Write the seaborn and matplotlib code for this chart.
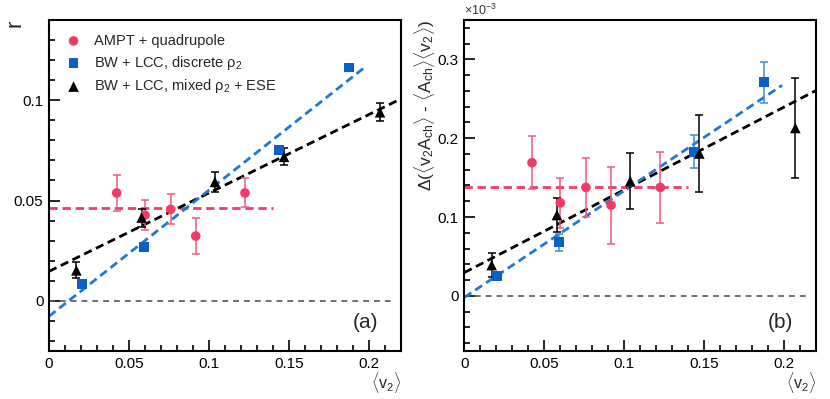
import numpy as np
import pandas as pd
import matplotlib
matplotlib.use("Agg")
import matplotlib.pyplot as plt
import seaborn as sns

sns.set_theme(style="white")
plt.rcParams['font.family'] = ['Liberation Sans', 'DejaVu Sans']
plt.rcParams['mathtext.fontset'] = 'custom'
plt.rcParams['mathtext.rm'] = 'Liberation Sans'
plt.rcParams['mathtext.it'] = 'Liberation Sans'
plt.rcParams['mathtext.bf'] = 'Liberation Sans:bold'

# ---------------- data ----------------
labels = ["AMPT + quadrupole", r"BW + LCC, discrete $\rho_2$", r"BW + LCC, mixed $\rho_2$ + ESE"]

# panel (a): r vs <v2>
ampt_x = [0.0423, 0.0600, 0.0760, 0.0917, 0.1225]
ampt_r = [0.0538, 0.0427, 0.0456, 0.0323, 0.0538]
ampt_r_err = [0.0088, 0.0075, 0.0075, 0.0090, 0.0072]

disc_x = [0.0204, 0.0594, 0.1435, 0.1873]
disc_r = [0.0085, 0.0268, 0.0752, 0.1163]
disc_r_err = [0.0, 0.0, 0.0, 0.0]

mix_x = [0.0171, 0.0579, 0.1037, 0.1469, 0.2069]
mix_r = [0.0152, 0.0415, 0.0593, 0.0718, 0.0940]
mix_r_err = [0.0040, 0.0045, 0.0050, 0.0043, 0.0044]

# panel (b): Delta(<v2 Ach> - <Ach><v2>)  [x 1e-3]
ampt_d = [0.169, 0.118, 0.1376, 0.115, 0.1376]
ampt_d_err = [0.034, 0.032, 0.037, 0.049, 0.045]

disc_d = [0.0253, 0.068, 0.1827, 0.2713]
disc_d_err = [0.005, 0.011, 0.021, 0.026]

mix_d = [0.039, 0.1025, 0.1456, 0.1806, 0.213]
mix_d_err = [0.015, 0.022, 0.036, 0.049, 0.063]

# linear fits: (x_start, x_end, intercept, slope)
fit_a = {"ampt": (0.0, 0.14, 0.0463, 0.0),
         "disc": (0.0, 0.1986, -0.0077, 0.629),
         "mix": (0.0, 0.22, 0.0147, 0.391)}
fit_b = {"ampt": (0.0, 0.14, 0.1376, 0.0),
         "disc": (0.0, 0.1986, -0.002, 1.355),
         "mix": (0.0, 0.22, 0.0295, 1.051)}
zero_line_x = [0.0, 0.2156]

x_ticks = [0, 0.05, 0.1, 0.15, 0.2]
x_ticklabels = ["0", "0.05", "0.1", "0.15", "0.2"]
ya_ticks = [0, 0.05, 0.1]
ya_ticklabels = ["0", "0.05", "0.1"]
yb_ticks = [0, 0.1, 0.2, 0.3]
yb_ticklabels = ["0", "0.1", "0.2", "0.3"]

# ---------------- style ----------------
PINK = "#F53A66"
PINK_ERR = "#F2587C"
BLUE = "#0A5FC8"
BLUE_ERR = "#3A8AD8"
BLACK = "#000000"
BLUE_LINE = "#1E78D6"

fig = plt.figure(figsize=(8.30, 3.99), dpi=100)
axA = fig.add_axes([49/830, 1-351/399, 352/830, 331/399])
axB = fig.add_axes([464.3/830, 1-351/399, 352/830, 331/399])


def draw_panel(ax, ys, errs, fits, ylim, yticks, yticklabels, yminor, tag, legend):
    series = [
        ("ampt", ampt_x, ys[0], errs[0], PINK, PINK_ERR, "o", 48, labels[0]),
        ("disc", disc_x, ys[1], errs[1], BLUE, BLUE_ERR, "s", 50, labels[1]),
        ("mix", mix_x, ys[2], errs[2], BLACK, BLACK, "^", 58, labels[2]),
    ]
    # zero line
    zdf = pd.DataFrame({"x": zero_line_x, "y": [0.0, 0.0]})
    sns.lineplot(data=zdf, x="x", y="y", ax=ax, color="#555555", lw=1.2,
                 linestyle=(0, (3.5, 3.0)), zorder=1)
    # fit lines
    fit_colors = {"ampt": PINK, "disc": BLUE_LINE, "mix": BLACK}
    for key in ["ampt", "mix", "disc"]:
        x0, x1, b, m = fits[key]
        fx = np.array([x0, x1])
        fdf = pd.DataFrame({"x": fx, "y": b + m * fx})
        sns.lineplot(data=fdf, x="x", y="y", ax=ax, color=fit_colors[key], lw=2.0,
                     linestyle=(0, (3.0, 1.7)), zorder=2)
    for key, xs, yv, ev, col, ecol, mk, sz, lab in series:
        if any(e > 0 for e in ev):
            ax.errorbar(xs, yv, yerr=ev, fmt="none", ecolor=ecol, elinewidth=1.1,
                        capsize=3, capthick=1.1, zorder=3)
        df = pd.DataFrame({"x": xs, "y": yv})
        sns.scatterplot(data=df, x="x", y="y", ax=ax, color=col, marker=mk, s=sz,
                        edgecolor="none", zorder=4, label=lab)
    ax.set_xlim(0, 0.22)
    ax.set_ylim(*ylim)
    ax.set_xticks(x_ticks)
    ax.set_xticklabels(x_ticklabels)
    ax.set_yticks(yticks)
    ax.set_yticklabels(yticklabels)
    ax.xaxis.set_minor_locator(matplotlib.ticker.MultipleLocator(0.01))
    ax.yaxis.set_minor_locator(matplotlib.ticker.MultipleLocator(yminor))
    ax.tick_params(which="both", direction="in", top=False, right=False,
                   bottom=True, left=True, colors="black", labelsize=11, width=1.2)
    ax.tick_params(which="major", length=8, pad=4)
    ax.tick_params(which="minor", length=4.5)
    for sp in ax.spines.values():
        sp.set_color("black")
        sp.set_linewidth(1.5)
    ax.set_xlabel(r"$\langle$v$_2\rangle$", fontsize=11.5, loc="right")
    ax.xaxis.set_label_coords(1.0, -0.058)
    ax.text(0.898, 0.085, tag, transform=ax.transAxes, fontsize=15,
            ha="center", va="center")
    if legend:
        ax.legend(loc="upper left", bbox_to_anchor=(0.02, 0.985), frameon=False,
                  fontsize=10.5, handletextpad=0.8, labelspacing=0.4,
                  borderaxespad=0.2, handlelength=1.2, markerscale=1.0)
    else:
        lg = ax.get_legend()
        if lg is not None:
            lg.remove()


draw_panel(axA, [ampt_r, disc_r, mix_r], [ampt_r_err, disc_r_err, mix_r_err], fit_a,
           (-0.025, 0.14), ya_ticks, ya_ticklabels, 0.01, "(a)", True)
draw_panel(axB, [ampt_d, disc_d, mix_d], [ampt_d_err, disc_d_err, mix_d_err], fit_b,
           (-0.07, 0.35), yb_ticks, yb_ticklabels, 0.02, "(b)", False)

axA.set_ylabel("r", fontsize=16, loc="top")
axA.yaxis.set_label_coords(-0.068, 1.0)
axB.set_ylabel(r"$\Delta(\langle$v$_2$A$_{ch}\rangle$ - $\langle$A$_{ch}\rangle\langle$v$_2\rangle)$",
               fontsize=12.5, loc="top")
axB.yaxis.set_label_coords(-0.077, 1.0)
axB.text(0.0, 1.006, r"$\times$10$^{-3}$", transform=axB.transAxes, fontsize=9,
         color="#333333", ha="left", va="bottom")

fig.savefig("out.png", dpi=100)
